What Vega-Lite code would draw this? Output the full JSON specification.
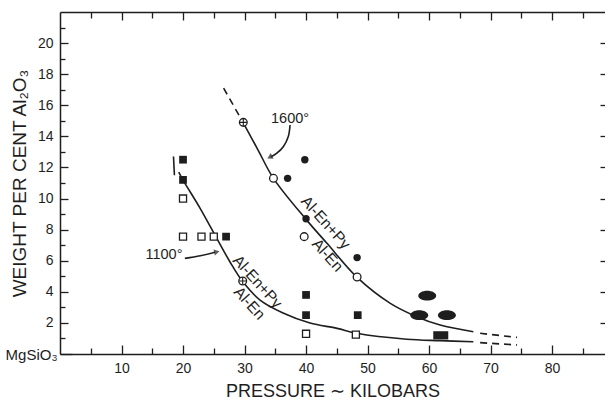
{
  "$schema": "https://vega.github.io/schema/vega-lite/v6.json",
  "width": 545,
  "height": 342,
  "autosize": "none",
  "padding": {"left": 60, "top": 12, "right": 0, "bottom": 46},
  "background": "white",
  "config": {
    "view": {"stroke": null},
    "font": "Liberation Sans",
    "axis": {"grid": false, "domainColor": "#1e1e1e", "tickColor": "#1e1e1e", "labelColor": "#1e1e1e", "titleColor": "#1e1e1e", "domainWidth": 1.5, "tickWidth": 1.3, "labelFont": "Liberation Sans", "titleFont": "Liberation Sans", "titleFontWeight": "normal", "labelFlush": false, "labelOverlap": false}
  },
  "data": {"values": [
    {"kind": "fsq", "x": 20, "y": 12.5}, {"kind": "fsq", "x": 20, "y": 11.2}, {"kind": "fsq", "x": 27, "y": 7.55},
    {"kind": "fsq", "x": 40, "y": 3.8}, {"kind": "fsq", "x": 40, "y": 2.5}, {"kind": "fsq", "x": 48.4, "y": 2.5},
    {"kind": "osq", "x": 20, "y": 10}, {"kind": "osq", "x": 20, "y": 7.55}, {"kind": "osq", "x": 23, "y": 7.55},
    {"kind": "osq", "x": 25, "y": 7.55}, {"kind": "osq", "x": 40, "y": 1.3}, {"kind": "osq", "x": 48.1, "y": 1.25},
    {"kind": "fci", "x": 37, "y": 11.3}, {"kind": "fci", "x": 39.8, "y": 12.5}, {"kind": "fci", "x": 40, "y": 8.7}, {"kind": "fci", "x": 48.3, "y": 6.2},
    {"kind": "oci", "x": 34.7, "y": 11.3}, {"kind": "oci", "x": 39.7, "y": 7.55}, {"kind": "oci", "x": 48.3, "y": 4.95},
    {"kind": "xci", "x": 29.8, "y": 14.9}, {"kind": "xci", "x": 29.7, "y": 4.7},
    {"kind": "ell", "x": 59.7, "y": 3.75}, {"kind": "ell", "x": 58.4, "y": 2.5}, {"kind": "ell", "x": 62.9, "y": 2.5},
    {"kind": "rect", "x": 61.9, "y": 1.2},
    {"kind": "c1600", "i": 1, "x": 29.8, "y": 14.87}, {"kind": "c1600", "i": 2, "x": 32.2, "y": 13.12},
    {"kind": "c1600", "i": 3, "x": 34.7, "y": 11.3}, {"kind": "c1600", "i": 4, "x": 40.0, "y": 8.66},
    {"kind": "c1600", "i": 5, "x": 43.4, "y": 7.12}, {"kind": "c1600", "i": 6, "x": 48.3, "y": 4.93},
    {"kind": "c1600", "i": 7, "x": 53.7, "y": 3.26}, {"kind": "c1600", "i": 8, "x": 58.0, "y": 2.4},
    {"kind": "c1600", "i": 9, "x": 61.8, "y": 1.86}, {"kind": "c1600", "i": 10, "x": 67.2, "y": 1.43},
    {"kind": "c1100", "i": 1, "x": 19.3, "y": 11.7}, {"kind": "c1100", "i": 2, "x": 20.0, "y": 11.19},
    {"kind": "c1100", "i": 3, "x": 22.76, "y": 9.39}, {"kind": "c1100", "i": 4, "x": 25.2, "y": 7.65},
    {"kind": "c1100", "i": 5, "x": 27.64, "y": 5.92}, {"kind": "c1100", "i": 6, "x": 29.64, "y": 4.69},
    {"kind": "c1100", "i": 7, "x": 32.52, "y": 3.47}, {"kind": "c1100", "i": 8, "x": 36.26, "y": 2.64},
    {"kind": "c1100", "i": 9, "x": 40.65, "y": 1.99}, {"kind": "c1100", "i": 10, "x": 45.04, "y": 1.65},
    {"kind": "c1100", "i": 11, "x": 48.24, "y": 1.33}, {"kind": "c1100", "i": 12, "x": 56.37, "y": 0.95},
    {"kind": "c1100", "i": 13, "x": 61.79, "y": 0.86}, {"kind": "c1100", "i": 14, "x": 67.2, "y": 0.79},
    {"kind": "hook", "i": 1, "x": 18.45, "y": 12.7}, {"kind": "hook", "i": 2, "x": 18.6, "y": 11.5},
    {"kind": "arr1600", "i": 1, "x": 37.4, "y": 14.73}, {"kind": "arr1600", "i": 2, "x": 37.1, "y": 13.97},
    {"kind": "arr1600", "i": 3, "x": 36.3, "y": 13.33}, {"kind": "arr1600", "i": 4, "x": 35.2, "y": 12.9},
    {"kind": "arr1600", "i": 5, "x": 34.3, "y": 12.68},
    {"kind": "arr1100", "i": 1, "x": 20.3, "y": 6.15}, {"kind": "arr1100", "i": 2, "x": 22.8, "y": 6.32},
    {"kind": "arr1100", "i": 3, "x": 25.2, "y": 6.55},
    {"kind": "d1600a", "i": 1, "x": 26.6, "y": 17.1}, {"kind": "d1600a", "i": 2, "x": 29.4, "y": 15.15},
    {"kind": "d1600b", "i": 1, "x": 68.3, "y": 1.33}, {"kind": "d1600b", "i": 2, "x": 74.3, "y": 1.07},
    {"kind": "d1100b", "i": 1, "x": 68.3, "y": 0.73}, {"kind": "d1100b", "i": 2, "x": 74.3, "y": 0.58},
    {"kind": "h1600", "x": 34.1, "y": 12.66},
    {"kind": "h1100", "x": 25.5, "y": 6.57},
    {"kind": "lab", "x": 37.4, "y": 15.1, "t": "1600°"},
    {"kind": "lab", "x": 16.9, "y": 6.37, "t": "1100°"},
    {"kind": "rot", "x": 43.2, "y": 8.45, "t": "Al-En+Py"},
    {"kind": "rot", "x": 43.5, "y": 6.35, "t": "Al-En"},
    {"kind": "rot", "x": 32.1, "y": 4.65, "t": "Al-En+Py"},
    {"kind": "rot", "x": 30.8, "y": 3.26, "t": "Al-En"}
  ]},
  "layer": [
    {
      "encoding": {
        "x": {"field": "x", "type": "quantitative", "scale": {"domain": [0, 88.6], "nice": false, "zero": false},
          "axis": {"orient": "bottom", "values": [5, 10, 15, 20, 25, 30, 35, 40, 45, 50, 55, 60, 65, 70, 75, 80, 85],
            "tickSize": {"condition": {"test": "datum.value % 10 === 0", "value": -9}, "value": -6},
            "labelExpr": "datum.value % 10 === 0 ? datum.label : ''",
            "labelPadding": 16, "labelFontSize": 14,
            "title": "PRESSURE ∼ KILOBARS", "titleFontSize": 18, "titlePadding": 4}},
        "y": {"field": "y", "type": "quantitative", "scale": {"domain": [0, 22], "nice": false, "zero": false},
          "axis": {"orient": "left", "values": [0, 1, 2, 3, 4, 5, 6, 7, 8, 9, 10, 11, 12, 13, 14, 15, 16, 17, 18, 19, 20, 21],
            "tickSize": {"condition": [{"test": "datum.value === 0", "value": -12}, {"test": "datum.value % 2 === 0", "value": -8}], "value": -5},
            "labelExpr": "datum.value === 0 ? 'MgSiO₃' : (datum.value % 2 === 0 ? datum.label : '')",
            "labelFontSize": {"condition": {"test": "datum.value === 0", "value": 15}, "value": 14},
            "labelPadding": 15,
            "title": "WEIGHT PER CENT Al₂O₃", "titleFontSize": 19, "titlePadding": -24}}
      },
      "layer": [
        {"transform": [{"filter": "indexof(['c1600','c1100','hook','arr1600','arr1100'], datum.kind) >= 0"}],
         "mark": {"type": "line", "interpolate": "catmull-rom", "color": "#1e1e1e", "strokeWidth": 1.6},
         "encoding": {"detail": {"field": "kind"}, "order": {"field": "i"}}},
        {"transform": [{"filter": "indexof(['d1600a','d1600b','d1100b'], datum.kind) >= 0"}],
         "mark": {"type": "line", "color": "#1e1e1e", "strokeWidth": 1.6, "strokeDash": [7, 5]},
         "encoding": {"detail": {"field": "kind"}, "order": {"field": "i"}}},
        {"transform": [{"filter": "datum.kind === 'h1600'"}],
         "mark": {"type": "point", "shape": "triangle-up", "filled": true, "color": "#1e1e1e", "size": 40, "angle": 242}},
        {"transform": [{"filter": "datum.kind === 'h1100'"}],
         "mark": {"type": "point", "shape": "triangle-up", "filled": true, "color": "#1e1e1e", "size": 40, "angle": 77}},
        {"transform": [{"filter": "datum.kind === 'fsq'"}],
         "mark": {"type": "point", "shape": "square", "filled": true, "color": "#1e1e1e", "size": 60, "opacity": 1}},
        {"transform": [{"filter": "datum.kind === 'osq'"}],
         "mark": {"type": "point", "shape": "square", "filled": true, "fill": "white", "stroke": "#1e1e1e", "strokeWidth": 1.3, "size": 50, "opacity": 1}},
        {"transform": [{"filter": "datum.kind === 'fci'"}],
         "mark": {"type": "point", "shape": "circle", "filled": true, "color": "#1e1e1e", "size": 55, "opacity": 1}},
        {"transform": [{"filter": "datum.kind === 'oci' || datum.kind === 'xci'"}],
         "mark": {"type": "point", "shape": "circle", "filled": true, "fill": "white", "stroke": "#1e1e1e", "strokeWidth": 1.3, "size": 60, "opacity": 1}},
        {"transform": [{"filter": "datum.kind === 'xci'"}],
         "mark": {"type": "point", "shape": "M-1,0L1,0M0,-1L0,1", "filled": false, "stroke": "#1e1e1e", "strokeWidth": 1.1, "size": 50, "opacity": 1}},
        {"transform": [{"filter": "datum.kind === 'ell'"}],
         "mark": {"type": "point", "shape": "M-1,0A1,0.55,0,1,0,1,0A1,0.55,0,1,0,-1,0Z", "filled": true, "color": "#1e1e1e", "size": 320, "opacity": 1}},
        {"transform": [{"filter": "datum.kind === 'rect'"}],
         "mark": {"type": "point", "shape": "M-1,-0.55L1,-0.55L1,0.55L-1,0.55Z", "filled": true, "color": "#1e1e1e", "size": 225, "opacity": 1}},
        {"transform": [{"filter": "datum.kind === 'lab'"}],
         "mark": {"type": "text", "fontSize": 14.5, "color": "#1e1e1e", "align": "center", "baseline": "middle"},
         "encoding": {"text": {"field": "t"}}},
        {"transform": [{"filter": "datum.kind === 'rot'"}],
         "mark": {"type": "text", "fontSize": 15.5, "color": "#1e1e1e", "align": "center", "baseline": "middle", "angle": 48},
         "encoding": {"text": {"field": "t"}}}
      ]
    },
    {
      "transform": [{"filter": "datum.kind === 'rect'"}],
      "mark": {"type": "point", "opacity": 0},
      "encoding": {
        "x": {"field": "x", "type": "quantitative", "scale": {"domain": [0, 88.6], "nice": false, "zero": false},
          "axis": {"orient": "top", "values": [5, 10, 15, 20, 25, 30, 35, 40, 45, 50, 55, 60, 65, 70, 75, 80, 85],
            "tickSize": {"condition": {"test": "datum.value % 10 === 0", "value": -8}, "value": -6},
            "labels": false, "title": null}},
        "y": {"field": "y", "type": "quantitative", "scale": {"domain": [0, 22], "nice": false, "zero": false},
          "axis": {"orient": "right", "values": [2, 4, 6, 8, 10, 12, 14, 16, 18, 20],
            "tickSize": -5, "labels": false, "title": null, "domain": false}}
      }
    }
  ],
  "resolve": {"axis": {"x": "independent", "y": "independent"}}
}
